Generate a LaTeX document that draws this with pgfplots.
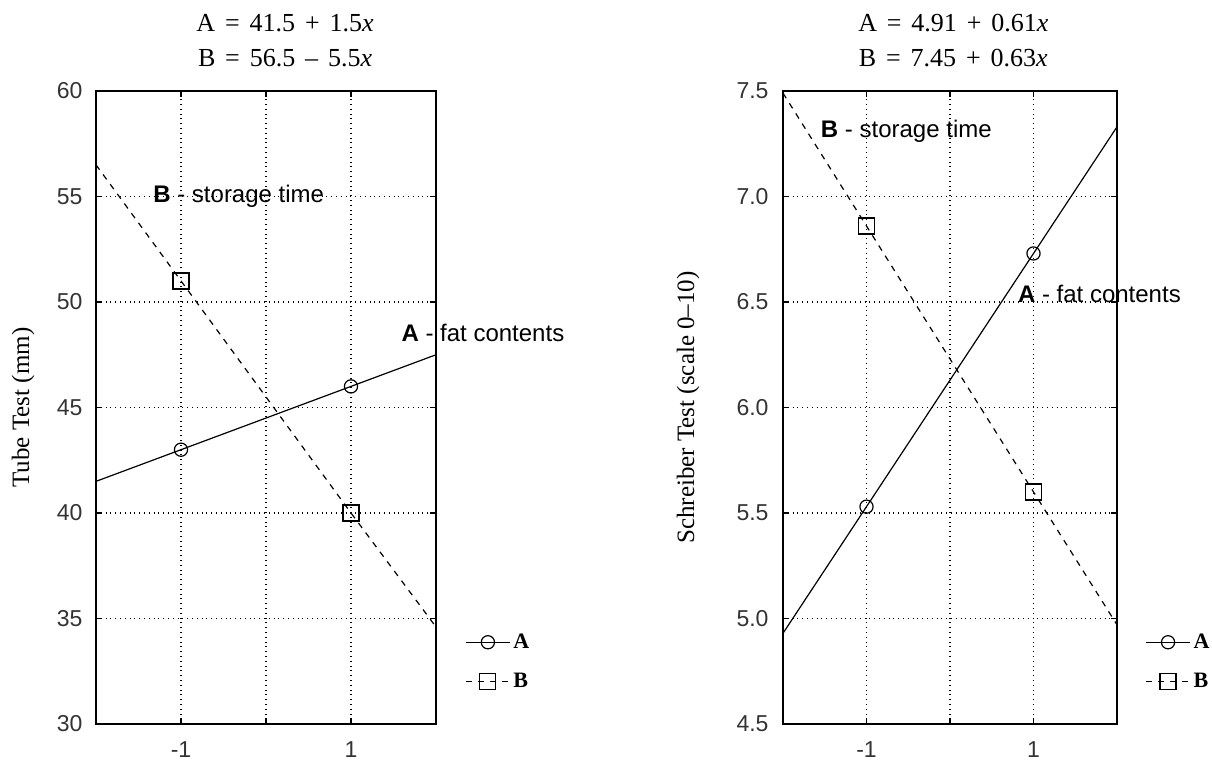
\documentclass[border=0pt]{standalone}
\usepackage{fontspec}
\setmainfont{Liberation Serif}
\newfontfamily\sansf{Liberation Sans}
\usepackage{pgfplots}
\pgfplotsset{compat=1.18}

\tikzset{annot/.style={anchor=west, inner sep=0pt, font=\sansf\fontsize{12}{14}\selectfont},
  ttl/.style={font=\fontsize{13}{15}\selectfont}}
\newcommand{\tsp}{\hspace{0.38em}}
\pgfplotsset{
  panel/.style={
    scale only axis, height=316.5pt, anchor=south west,
    xmin=-2, xmax=2, xtick={-1,0,1}, xticklabels={-1,,1},
    grid=major, major grid style={black, dotted, line width=0.6pt},
    axis line style={black, line width=1pt},
    tick style={black, line width=0.6pt}, major tick length=3pt,
    /pgf/number format/assume math mode=true,
    tick label style={font=\sansf\fontsize{11.5}{12}\selectfont, text=black!80},
    xticklabel style={anchor=center}, xticklabel shift=13pt,
    clip=false,
    legend style={draw=none, fill=none, anchor=west, inner sep=0pt,
      font=\bfseries\fontsize{11}{12}\selectfont, row sep=8pt,
      nodes={inner sep=1.5pt}},
    legend cell align=left,
  },
  lineA/.style={black, line width=0.6pt, solid, mark=o, mark size=3.3pt, mark options={solid, line width=0.6pt},
    legend image code/.code={\draw[mark repeat=2,mark phase=2,##1] plot coordinates {(0pt,0pt) (11pt,0pt) (22pt,0pt)};}},
  lineB/.style={black, line width=0.6pt, dash pattern=on 3pt off 3pt, mark=square, mark size=4pt, mark options={solid, line width=0.6pt},
    legend image code/.code={\draw[mark repeat=2,mark phase=2,##1] plot coordinates {(0pt,0pt) (11pt,0pt) (22pt,0pt)};}},
}

\begin{document}
\begin{tikzpicture}
\useasboundingbox (0,0) rectangle (606pt,381pt);

% ---------------- left panel ----------------
\begin{axis}[panel, at={(48pt,19pt)}, width=170pt,
  ymin=30, ymax=60, ytick={30,35,40,45,50,55,60},
  yticklabels={30,35,40,45,50,55,60},
  yticklabel shift=3.2pt,
  legend style={at={(rel axis cs:1.085,0.098)}}]
\addplot[lineA, mark indices={2,3}, forget plot] coordinates {(-2,41.5) (-1,43) (1,46) (2,47.5)};
\addplot[lineB, mark indices={2,3}, forget plot] coordinates {(-2,56.5) (-1,51) (1,40) (2,34.6)};
\addlegendimage{lineA}\addlegendentry{A}
\addlegendimage{lineB}\addlegendentry{B}
\node[annot] at (axis cs:-1.33,55) {\textbf{B} - storage time};
\node[annot] at (axis cs:1.59,48.55) {\textbf{A} - fat contents};
\node[ttl] at ([yshift=34pt]rel axis cs:0.556,1) {A\tsp=\tsp41.5\tsp+\tsp1.5\textit{x}};
\node[ttl] at ([yshift=16.5pt]rel axis cs:0.556,1) {B\tsp=\tsp56.5\tsp–\tsp5.5\textit{x}};
\node[rotate=90, font=\fontsize{12.5}{14}\selectfont] at ([xshift=-36.5pt]rel axis cs:0,0.5) {Tube Test (mm)};
\end{axis}

% ---------------- right panel ----------------
\begin{axis}[panel, at={(391.5pt,19pt)}, width=167pt,
  ymin=4.5, ymax=7.5, ytick={4.5,5,5.5,6,6.5,7,7.5},
  yticklabels={4.5,5.0,5.5,6.0,6.5,7.0,7.5},
  yticklabel shift=3.7pt,
  legend style={at={(rel axis cs:1.084,0.098)}}]
\addplot[lineA, mark indices={2,3}, forget plot] coordinates {(-2,4.93) (-1,5.53) (1,6.73) (2,7.33)};
\addplot[lineB, mark indices={2,3}, forget plot] coordinates {(-2,7.49) (-1,6.86) (1,5.60) (2,4.97)};
\addlegendimage{lineA}\addlegendentry{A}
\addlegendimage{lineB}\addlegendentry{B}
\node[annot] at (axis cs:-1.55,7.31) {\textbf{B} - storage time};
\node[annot] at (axis cs:0.81,6.54) {\textbf{A} - fat contents};
\node[ttl] at ([yshift=34pt]rel axis cs:0.51,1) {A\tsp=\tsp4.91\tsp+\tsp0.61\textit{x}};
\node[ttl] at ([yshift=16.5pt]rel axis cs:0.51,1) {B\tsp=\tsp7.45\tsp+\tsp0.63\textit{x}};
\node[rotate=90, font=\fontsize{12.5}{14}\selectfont] at ([xshift=-47.5pt]rel axis cs:0,0.5) {Schreiber Test (scale 0–10)};
\end{axis}
\end{tikzpicture}
\end{document}
